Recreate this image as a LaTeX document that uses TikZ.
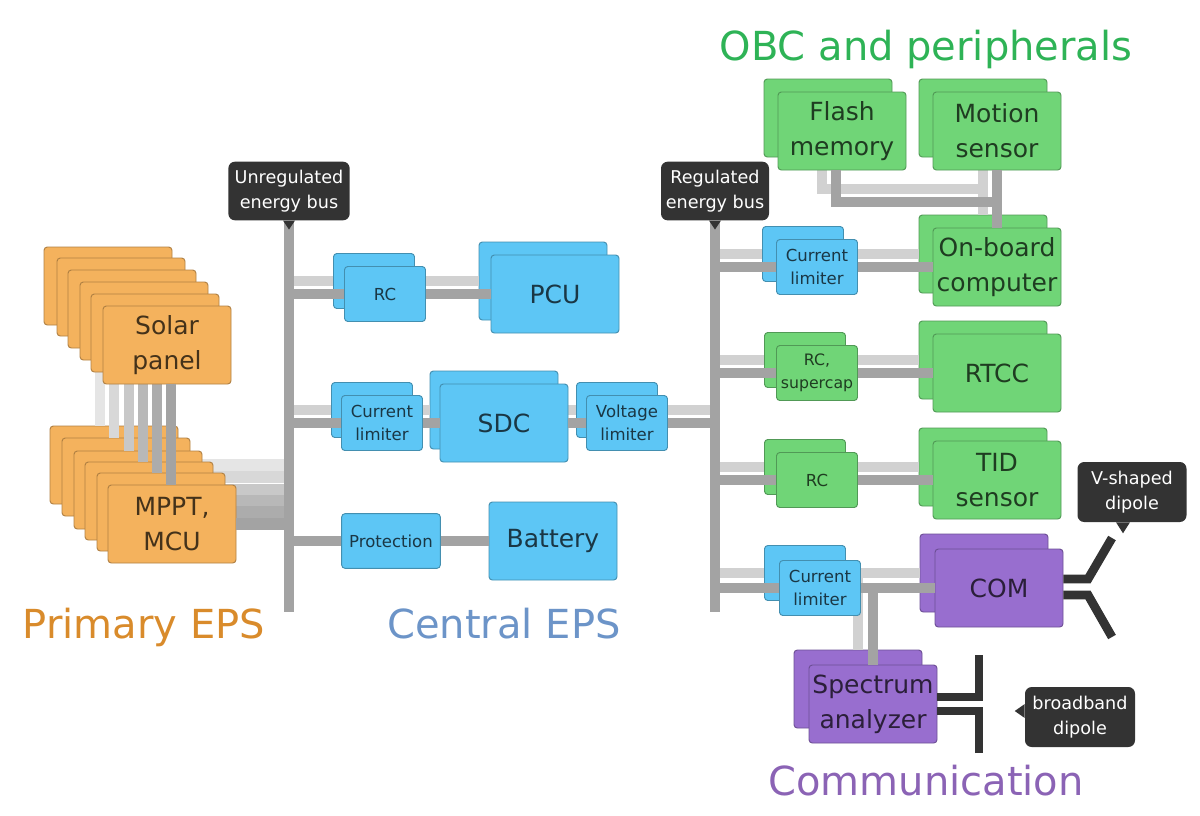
\documentclass[tikz,border=0pt]{standalone}
\usepackage{fontspec}
\usepackage{xcolor}
\setmainfont{DejaVu Sans}
\definecolor{wirecol}{HTML}{A3A3A3}
\definecolor{tagcol}{HTML}{333333}
\definecolor{orangebox}{HTML}{F4B25D}
\definecolor{bluebox}{HTML}{5DC6F5}
\definecolor{greenbox}{HTML}{70D577}
\definecolor{purplebox}{HTML}{986ECF}
\definecolor{orangetitle}{HTML}{D98B2B}
\definecolor{bluetitle}{HTML}{6C94C8}
\definecolor{greentitle}{HTML}{2EB356}
\definecolor{purpletitle}{HTML}{8B63B5}

\begin{document}
\begin{tikzpicture}[x=0.75pt, y=-0.75pt, inner sep=0pt,
		wire/.style={line width=7.3pt, draw=wirecol},
		faint/.style={line width=7.3pt, draw=wirecol!#1!white},
		feed/.style={line width=8.4pt, draw=wirecol!#1!white},
		dipole/.style={line width=6.6pt, draw=tagcol},
		panel/.style={draw=#1!72!black, fill=#1, line width=0.7pt, rounded corners=2.5pt, text=#1!28!black, align=center},
		bigbox/.style={panel=#1, minimum width=96pt, minimum height=58.5pt, font=\fontsize{18.75}{26.5}\selectfont},
		smallbox/.style={panel=#1, minimum width=60.75pt, minimum height=41.25pt, font=\fontsize{12.4}{17}\selectfont},
		tag/.style={fill=tagcol, rounded corners=5pt, text=white, align=center, font=\fontsize{13.2}{19}\selectfont},
		heading/.style={font=\fontsize{30}{36}\selectfont}]
			\useasboundingbox (0,0) rectangle (1200,815);
			
			% headings
			\node[heading, text=greentitle] (obc_title) at (926,49) {OBC and peripherals};
			\node[heading, text=orangetitle] (primary_title) at (144,627) {Primary EPS};
			\node[heading, text=bluetitle] (central_title) at (504,624) {Central EPS};
			\node[heading, text=purpletitle] (com_title) at (926,781) {Communication};
			
			% bus labels
			\node[tag, minimum width=91pt, minimum height=44pt] (unreg) at (289,191) {Unregulated\\energy bus};
			\node[tag, minimum width=81pt, minimum height=44pt] (reg) at (715,191) {Regulated\\energy bus};
			\coordinate (unreg_end) at (289,612);
			\coordinate (reg_end) at (715,612);
			
			% primary EPS, back to front
			\node[bigbox=orangebox] (solar_c1) at (108,286) {};
			\node[bigbox=orangebox] (mppt_c1) at (114,465) {};
			\draw[faint=28](solar_c1.south -| 100,0) -- (mppt_c1.north -| 100,0);
			\draw[feed=28](mppt_c1) edge (mppt_c1 -| unreg);
			
			\node[bigbox=orangebox] (solar_c2) at (121,297) {};
			\node[bigbox=orangebox] (mppt_c2) at (126,477) {};
			\draw[faint=42](solar_c2.south -| 114,0) -- (mppt_c2.north -| 114,0);
			\draw[feed=42](mppt_c2) edge (mppt_c2 -| unreg);
			
			\node[bigbox=orangebox] (solar_c3) at (132,309) {};
			\node[bigbox=orangebox] (mppt_c3) at (138,490) {};
			\draw[faint=60](solar_c3.south -| 129,0) -- (mppt_c3.north -| 129,0);
			\draw[feed=60](mppt_c3) edge (mppt_c3 -| unreg);
			
			\node[bigbox=orangebox] (solar_c4) at (144,321) {};
			\node[bigbox=orangebox] (mppt_c4) at (149,501) {};
			\draw[faint=77](solar_c4.south -| 143,0) -- (mppt_c4.north -| 143,0);
			\draw[feed=77](mppt_c4) edge (mppt_c4 -| unreg);
			
			\node[bigbox=orangebox] (solar_c5) at (155,333) {};
			\node[bigbox=orangebox] (mppt_c5) at (161,512) {};
			\draw[faint=90](solar_c5.south -| 157,0) -- (mppt_c5.north -| 157,0);
			\draw[feed=90](mppt_c5) edge (mppt_c5 -| unreg);
			
			\node[bigbox=orangebox] (solar_c6) at (167,345) {Solar\\panel};
			\node[bigbox=orangebox] (mppt_c6) at (172,524) {MPPT,\\MCU};
			\draw[wire](solar_c6.south -| 171,0) -- (mppt_c6.north -| 171,0);
			\draw[feed=100](mppt_c6) edge (mppt_c6 -| unreg);
			
			% back boxes
			\node[smallbox=bluebox] (rc_b) at (374,281) {};
			\node[bigbox=bluebox] (pcu_b) at (543,281) {};
			\node[smallbox=bluebox] (climit_b) at (372,410) {};
			\node[bigbox=bluebox] (sdc_b) at (494,410) {};
			\node[smallbox=bluebox] (vlimit_b) at (617,410) {};
			
			\node[bigbox=greenbox] (flash_b) at (828,118) {};
			\node[bigbox=greenbox] (motion_b) at (983,118) {};
			\node[smallbox=bluebox] (olimit_b) at (803,254) {};
			\node[bigbox=greenbox] (onboard_b) at (983,254) {};
			\node[smallbox=greenbox] (super_b) at (805,360) {};
			\node[bigbox=greenbox] (rtcc_b) at (983,360) {};
			\node[smallbox=greenbox] (tidrc_b) at (805,467) {};
			\node[bigbox=greenbox] (tid_b) at (983,467) {};
			\node[smallbox=bluebox] (comlimit_b) at (805,573) {};
			\node[bigbox=purplebox] (com_b) at (984,573) {};
			\node[bigbox=purplebox] (spectrum_b) at (858,689) {};
			
			% back wires
			\draw[faint=50](rc_b -| unreg) edge (rc_b);
			\draw[faint=50](rc_b) edge (pcu_b);
			\draw[faint=50](climit_b -| unreg) edge (climit_b);
			\draw[faint=50](climit_b) edge (sdc_b);
			\draw[faint=50](sdc_b) edge (vlimit_b);
			\draw[faint=50](vlimit_b) edge (vlimit_b -| reg);
			\draw[faint=50](flash_b.south -| 822,0) |- (motion_b |- 0,189);
			\draw[faint=50](motion_b) edge (onboard_b);
			\draw[faint=50](olimit_b -| reg) edge (olimit_b);
			\draw[faint=50](olimit_b) edge (onboard_b);
			\draw[faint=50](super_b -| reg) edge (super_b);
			\draw[faint=50](super_b) edge (rtcc_b);
			\draw[faint=50](tidrc_b -| reg) edge (tidrc_b);
			\draw[faint=50](tidrc_b) edge (tid_b);
			\draw[faint=50](comlimit_b -| reg) edge (comlimit_b);
			\draw[faint=50](comlimit_b) edge (com_b);
			\draw[faint=50](spectrum_b) edge (spectrum_b |- com_b);
			
			% front boxes
			\node[smallbox=bluebox] (rc_f) at (385,294) {RC};
			\node[bigbox=bluebox] (pcu_f) at (555,294) {PCU};
			\node[smallbox=bluebox] (climit_f) at (382,423) {Current\\limiter};
			\node[bigbox=bluebox] (sdc_f) at (504,423) {SDC};
			\node[smallbox=bluebox] (vlimit_f) at (627,423) {Voltage\\limiter};
			\node[panel=bluebox, minimum width=74pt, minimum height=41pt, font=\fontsize{12.4}{17}\selectfont] (protection) at (391,541) {Protection};
			\node[bigbox=bluebox] (battery) at (553,541) {Battery};
			
			\node[bigbox=greenbox] (flash_f) at (842,131) {Flash\\memory};
			\node[bigbox=greenbox] (motion_f) at (997,131) {Motion\\sensor};
			\node[smallbox=bluebox] (olimit_f) at (817,267) {Current\\limiter};
			\node[bigbox=greenbox] (onboard_f) at (997,267) {On-board\\computer};
			\node[smallbox=greenbox, font=\fontsize{11.8}{17}\selectfont] (super_f) at (817,373) {RC,\\supercap};
			\node[bigbox=greenbox] (rtcc_f) at (997,373) {RTCC};
			\node[smallbox=greenbox] (tidrc_f) at (817,480) {RC};
			\node[bigbox=greenbox] (tid_f) at (997,480) {TID\\sensor};
			\node[smallbox=bluebox] (comlimit_f) at (820,588) {Current\\limiter};
			\node[bigbox=purplebox] (com_f) at (999,588) {COM};
			\node[bigbox=purplebox] (spectrum_f) at (873,704) {Spectrum\\analyzer};
			
			% front wires
			\draw[wire](rc_f -| unreg) edge (rc_f);
			\draw[wire](rc_f) edge (pcu_f);
			\draw[wire](climit_f -| unreg) edge (climit_f);
			\draw[wire](climit_f) edge (sdc_f);
			\draw[wire](sdc_f) edge (vlimit_f);
			\draw[wire](vlimit_f) edge (vlimit_f -| reg);
			\draw[wire](protection -| unreg) edge (protection);
			\draw[wire](protection) edge (battery);
			\draw[wire](flash_f.south -| 836,0) |- (motion_f |- 0,202);
			\draw[wire](motion_f) edge (onboard_f);
			\draw[wire](olimit_f -| reg) edge (olimit_f);
			\draw[wire](olimit_f) edge (onboard_f);
			\draw[wire](super_f -| reg) edge (super_f);
			\draw[wire](super_f) edge (rtcc_f);
			\draw[wire](tidrc_f -| reg) edge (tidrc_f);
			\draw[wire](tidrc_f) edge (tid_f);
			\draw[wire](comlimit_f -| reg) edge (comlimit_f);
			\draw[wire](comlimit_f) edge (com_f);
			\draw[wire](spectrum_f) edge (spectrum_f |- com_f);
			
			% buses
			\draw[wire](unreg.south) -- (unreg_end);
			\draw[wire](reg.south) -- (reg_end);
			\fill[tagcol] (unreg.south) ++(-6,0) -- ++(6,9) -- ++(6,-9) -- cycle;
			\fill[tagcol] (reg.south) ++(-6,0) -- ++(6,9) -- ++(6,-9) -- cycle;
			
			% antennas
			\node[tag, minimum width=81.75pt, minimum height=45pt] (vdipole) at (1132,492) {V-shaped\\dipole};
			\node[tag, minimum width=82.5pt, minimum height=45pt] (broadband) at (1080,717) {broadband\\dipole};
			\fill[tagcol] (vdipole.south -| 1123,0) ++(-7,0) -- ++(7,11) -- ++(7,-11) -- cycle;
			\fill[tagcol] (broadband.west |- 0,711) ++(0,-7) -- ++(-10,7) -- ++(10,7) -- cycle;
			
			\coordinate (com_a1) at (1112,538);
			\coordinate (com_a2) at (1112,637);
			\coordinate (spectrum_a1) at (979,655);
			\coordinate (spectrum_a2) at (979,753);
			\draw[dipole](com_f.east |- 0,579) -- (1088,579) -- (com_a1);
			\draw[dipole](com_f.east |- 0,595) -- (1088,595) -- (com_a2);
			\draw[dipole](spectrum_a1) -- (979,701);
			\draw[dipole](spectrum_f.east |- 0,697) -- (979,697);
			\draw[dipole](spectrum_a2) -- (979,707);
			\draw[dipole](spectrum_f.east |- 0,711) -- (979,711);
		\end{tikzpicture}
\end{document}
